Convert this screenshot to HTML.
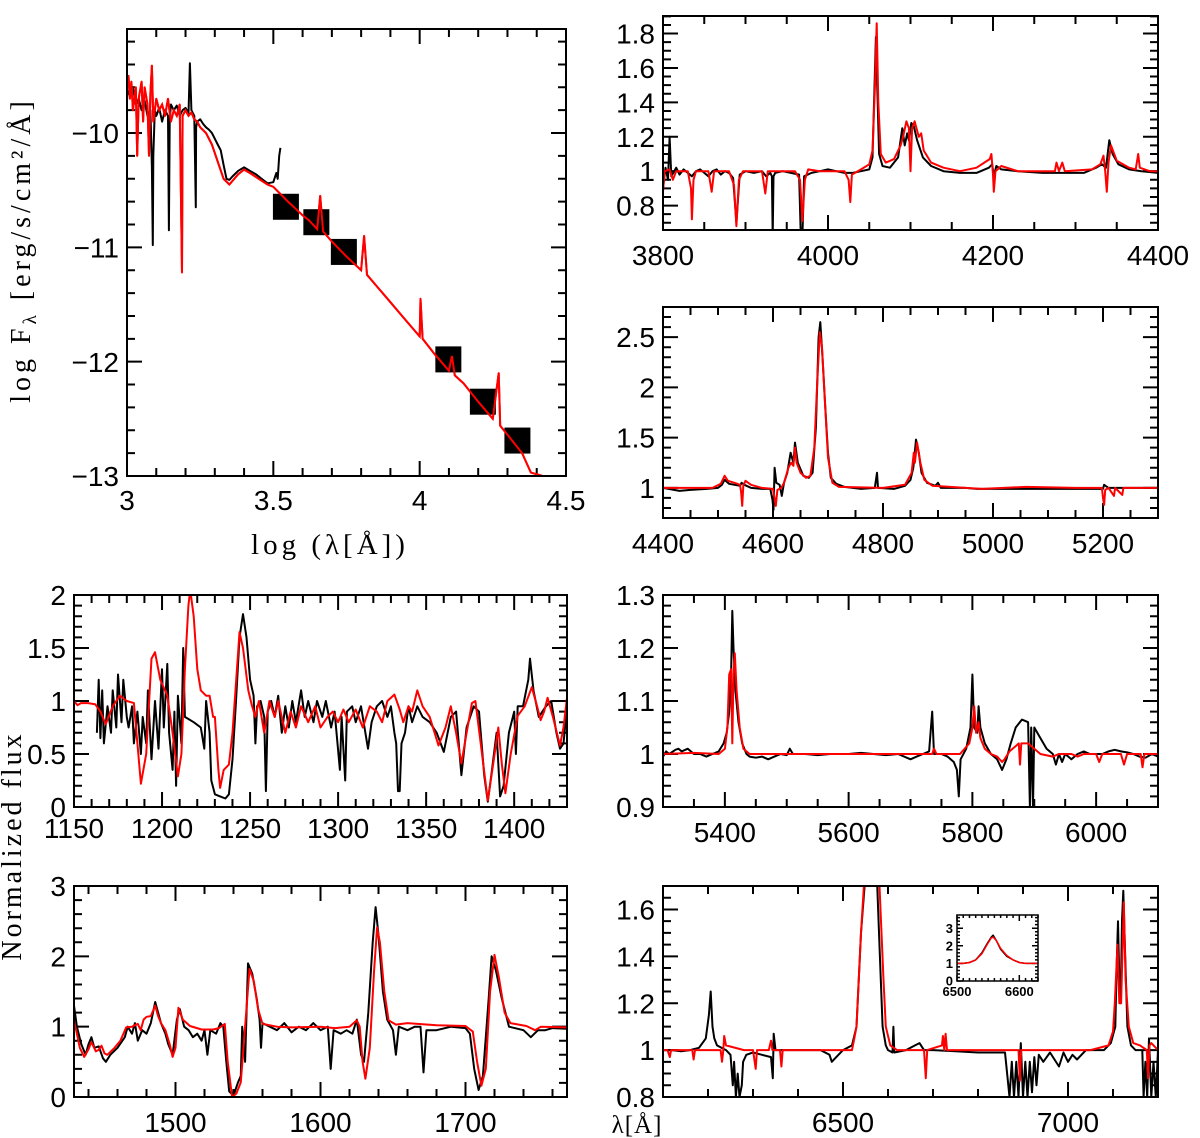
<!DOCTYPE html>
<html><head><meta charset="utf-8"><style>
html,body{margin:0;padding:0;background:#fff;}
svg{display:block;font-family:"Liberation Sans",sans-serif;}
</style></head><body>
<svg id="fig" width="1200" height="1138" viewBox="0 0 1200 1138" xmlns="http://www.w3.org/2000/svg">
<text transform="translate(30,250) rotate(-90)" text-anchor="middle" font-size="28" font-family="Liberation Serif, serif" letter-spacing="4">log F<tspan font-size="19" dy="6">λ</tspan><tspan dy="-6"> [erg/s/cm²/Å]</tspan></text>
<text x="330" y="554" text-anchor="middle" font-size="29" font-family="Liberation Serif, serif" letter-spacing="4">log (λ[Å])</text>
<text transform="translate(21,846) rotate(-90)" text-anchor="middle" font-size="28" font-family="Liberation Serif, serif" letter-spacing="3">Normalized flux</text>
<text x="637" y="1133" text-anchor="middle" font-size="25" font-family="Liberation Serif, serif" letter-spacing="1">λ[Å]</text>
</svg>
<script>
// ---------- DATA ----------
const sedObsXY = [[3.0,-9.62],[3.01,-9.68],[3.02,-9.6],[3.03,-9.75],[3.04,-9.7],[3.05,-9.8],[3.06,-9.72],[3.07,-9.85],[3.08,-9.8],[3.085,-10.3],[3.088,-10.98],[3.09,-10.2],[3.095,-9.8],[3.1,-9.85],[3.11,-9.78],[3.12,-9.9],[3.13,-9.8],[3.14,-9.85],[3.143,-10.85],[3.146,-9.9],[3.15,-9.75],[3.16,-9.8],[3.17,-9.76],[3.18,-9.85],[3.19,-9.8],[3.2,-9.78],[3.21,-9.83],[3.215,-9.39],[3.22,-9.8],[3.23,-9.85],[3.235,-10.65],[3.236,-9.95],[3.24,-9.9],[3.25,-9.88],[3.26,-9.92],[3.27,-9.95],[3.28,-9.97],[3.29,-10.0],[3.3,-10.05],[3.31,-10.1],[3.32,-10.15],[3.33,-10.28],[3.34,-10.4],[3.35,-10.41],[3.36,-10.38],[3.38,-10.33],[3.4,-10.3],[3.42,-10.33],[3.44,-10.36],[3.46,-10.4],[3.48,-10.44],[3.5,-10.43],[3.51,-10.35],[3.515,-10.4],[3.52,-10.2],[3.524,-10.13]];
const sedModelXY = [[3.0,-9.62],[3.005,-9.5],[3.01,-9.7],[3.015,-9.55],[3.02,-9.8],[3.03,-9.6],[3.035,-10.2],[3.04,-9.7],[3.05,-9.55],[3.055,-9.9],[3.06,-9.6],[3.07,-9.75],[3.075,-10.2],[3.08,-9.65],[3.085,-9.41],[3.09,-9.9],[3.1,-9.7],[3.11,-9.8],[3.12,-9.75],[3.13,-9.85],[3.14,-9.7],[3.15,-9.9],[3.16,-9.8],[3.17,-9.85],[3.18,-9.75],[3.188,-11.22],[3.19,-9.85],[3.2,-9.8],[3.21,-9.85],[3.22,-9.82],[3.23,-9.88],[3.24,-9.9],[3.25,-9.95],[3.27,-10.0],[3.29,-10.1],[3.31,-10.25],[3.33,-10.4],[3.35,-10.45],[3.36,-10.42],[3.38,-10.36],[3.4,-10.32],[3.42,-10.35],[3.45,-10.4],[3.48,-10.45],[3.5,-10.47],[3.55,-10.6],[3.6,-10.72],[3.62,-10.76],[3.65,-10.84],[3.66,-10.55],[3.67,-10.86],[3.7,-10.95],[3.75,-11.08],[3.8,-11.2],[3.81,-10.9],[3.82,-11.24],[3.85,-11.33],[3.9,-11.48],[3.95,-11.63],[4.0,-11.78],[4.003,-11.45],[4.01,-11.8],[4.05,-11.93],[4.1,-12.08],[4.11,-11.95],[4.12,-12.12],[4.15,-12.19],[4.2,-12.35],[4.25,-12.5],[4.27,-12.1],[4.275,-12.56],[4.3,-12.64],[4.35,-12.8],[4.38,-12.97],[4.42,-13.0]];
const sedPhotX = [3.543,3.647,3.741,4.098,4.216,4.334];
const sedPhotY = [-10.645,-10.78,-11.04,-11.98,-12.35,-12.69];

const p1ObsXY = [[3800,0.9],[3803,1.02],[3806,0.95],[3808,1.2],[3810,0.97],[3816,1.02],[3820,0.98],[3825,1.01],[3830,0.99],[3835,0.97],[3840,1.0],[3845,1.01],[3850,0.99],[3855,0.97],[3860,1.0],[3865,1.01],[3870,0.98],[3875,1.0],[3880,0.99],[3885,0.96],[3889,0.70],[3893,0.98],[3900,1.0],[3910,0.99],[3920,1.0],[3925,0.97],[3930,0.99],[3932,0.97],[3933,0.62],[3934,0.97],[3936,0.99],[3945,1.0],[3955,0.99],[3965,0.98],[3967,0.62],[3969,0.62],[3971,0.97],[3980,0.99],[3990,1.0],[4000,1.01],[4010,1.0],[4020,0.99],[4030,0.99],[4040,1.0],[4050,1.01],[4054,1.08],[4058,1.78],[4062,1.1],[4066,1.03],[4075,1.02],[4085,1.08],[4090,1.25],[4093,1.15],[4096,1.22],[4098,1.18],[4101,1.28],[4104,1.26],[4108,1.18],[4115,1.08],[4125,1.03],[4140,1.0],[4160,0.99],[4180,0.99],[4195,1.02],[4199,1.04],[4201,0.97],[4204,1.03],[4210,1.01],[4230,1.0],[4260,0.99],[4290,0.99],[4310,0.99],[4325,1.02],[4332,1.04],[4337,1.02],[4341,1.18],[4345,1.1],[4352,1.04],[4365,1.01],[4380,1.0],[4400,0.99]];
const p1ModelXY = [[3800,0.88],[3802,1.0],[3808,1.01],[3812,0.95],[3816,1.0],[3830,1.0],[3834,0.9],[3835,0.72],[3837,0.95],[3840,1.0],[3855,1.0],[3859,0.88],[3862,1.0],[3880,1.0],[3886,0.92],[3889,0.68],[3892,0.95],[3897,1.0],[3920,1.0],[3924,0.87],[3927,1.0],[3960,1.0],[3966,0.95],[3969,0.71],[3972,0.95],[3976,1.01],[3990,1.0],[4000,1.0],[4020,1.0],[4025,0.95],[4027,0.82],[4029,0.98],[4040,1.01],[4050,1.04],[4054,1.12],[4057,1.5],[4059,1.86],[4061,1.4],[4064,1.1],[4070,1.05],[4080,1.07],[4088,1.15],[4091,1.2],[4095,1.29],[4098,1.25],[4100,1.0],[4102,1.25],[4105,1.29],[4110,1.2],[4113,1.22],[4116,1.12],[4125,1.05],[4140,1.02],[4160,1.0],[4180,1.02],[4196,1.07],[4198,1.1],[4200,0.98],[4201,0.88],[4203,1.0],[4210,1.03],[4230,1.0],[4275,1.0],[4277,1.05],[4280,1.0],[4284,1.05],[4287,1.0],[4320,1.01],[4330,1.04],[4334,1.09],[4336,1.0],[4338,0.88],[4340,1.05],[4343,1.15],[4350,1.06],[4365,1.02],[4373,1.01],[4376,1.1],[4378,1.02],[4390,1.0],[4400,1.0]];

const p2ObsXY = [[4400,1.0],[4420,0.98],[4430,0.97],[4450,0.98],[4480,0.99],[4500,1.0],[4507,1.03],[4512,1.08],[4520,1.04],[4530,1.03],[4540,1.02],[4543,1.05],[4548,1.03],[4560,1.0],[4580,0.99],[4595,0.99],[4599,0.88],[4601,0.78],[4603,1.2],[4606,1.05],[4612,1.03],[4616,0.92],[4620,1.05],[4626,1.15],[4632,1.35],[4637,1.25],[4640,1.45],[4645,1.25],[4655,1.12],[4665,1.1],[4672,1.15],[4678,1.6],[4683,2.5],[4686,2.65],[4690,2.3],[4695,1.8],[4700,1.35],[4705,1.1],[4715,1.04],[4730,1.01],[4760,0.99],[4785,1.0],[4789,1.15],[4791,1.0],[4820,0.99],[4840,1.02],[4850,1.08],[4855,1.2],[4860,1.48],[4865,1.35],[4870,1.15],[4880,1.05],[4895,1.02],[4900,1.05],[4905,1.0],[4950,1.0],[4970,0.99],[5050,0.99],[5150,0.99],[5200,0.99],[5202,1.03],[5210,1.0],[5300,1.0]];
const p2ModelXY = [[4400,1.0],[4450,1.0],[4490,1.0],[4505,1.04],[4512,1.12],[4518,1.07],[4530,1.05],[4540,1.03],[4542,0.96],[4544,0.82],[4546,1.02],[4550,1.07],[4560,1.03],[4580,1.0],[4600,0.99],[4605,0.82],[4608,0.98],[4615,1.0],[4620,1.05],[4628,1.2],[4633,1.25],[4637,1.22],[4640,1.4],[4643,1.25],[4650,1.15],[4660,1.1],[4668,1.12],[4675,1.4],[4680,2.0],[4685,2.55],[4689,2.4],[4694,1.9],[4700,1.3],[4708,1.05],[4720,1.01],[4800,1.0],[4840,1.03],[4852,1.15],[4856,1.35],[4858,1.25],[4862,1.45],[4868,1.25],[4875,1.08],[4890,1.02],[4950,1.0],[4980,0.99],[5060,1.01],[5150,1.0],[5198,1.0],[5200,0.9],[5202,0.83],[5204,0.98],[5210,1.0],[5220,0.92],[5222,1.0],[5235,0.93],[5237,1.0],[5300,1.0]];

const p3ObsXY = [[1163,0.7],[1164,1.2],[1165,0.65],[1166,1.1],[1167,0.6],[1169,0.95],[1171,0.7],[1172,1.1],[1174,0.75],[1175,1.25],[1177,0.8],[1178,1.2],[1180,0.85],[1181,0.75],[1183,0.95],[1184,0.6],[1186,0.9],[1188,0.5],[1189,0.85],[1191,0.6],[1192,1.1],[1194,0.45],[1196,1.0],[1198,0.55],[1200,1.3],[1201,0.75],[1203,1.35],[1204,0.7],[1206,0.35],[1207,0.9],[1208,0.2],[1209,1.05],[1211,0.6],[1212,1.5],[1213,0.85],[1218,0.8],[1222,0.75],[1224,0.55],[1225,1.0],[1227,0.7],[1228,0.25],[1230,0.12],[1233,0.1],[1236,0.08],[1238,0.12],[1240,0.45],[1242,1.0],[1244,1.6],[1246,1.82],[1248,1.6],[1250,1.2],[1252,1.05],[1253,0.6],[1254,0.95],[1256,1.0],[1258,0.85],[1259,0.15],[1260,0.9],[1262,1.0],[1264,0.85],[1266,1.05],[1268,0.7],[1270,0.95],[1272,0.75],[1274,1.0],[1276,0.8],[1279,1.1],[1281,0.85],[1283,1.0],[1286,0.8],[1288,1.0],[1291,0.85],[1293,1.0],[1296,0.75],[1298,0.9],[1301,0.35],[1302,0.85],[1304,0.25],[1305,0.9],[1308,0.95],[1310,0.8],[1313,0.95],[1315,0.75],[1317,0.55],[1319,0.8],[1322,0.95],[1325,1.0],[1328,0.85],[1330,0.95],[1332,0.7],[1333,0.6],[1334,0.15],[1335,0.15],[1336,0.6],[1338,0.7],[1340,0.95],[1342,0.8],[1345,0.95],[1348,0.85],[1352,0.8],[1356,0.7],[1360,0.52],[1364,0.85],[1367,0.9],[1370,0.3],[1373,0.75],[1377,0.95],[1380,0.9],[1383,0.3],[1385,0.05],[1387,0.3],[1390,0.7],[1392,0.1],[1394,0.2],[1397,0.7],[1400,0.9],[1401,0.5],[1402,0.95],[1405,0.95],[1408,1.2],[1409,1.4],[1411,1.1],[1414,0.85],[1418,0.95],[1421,1.0],[1424,0.7],[1426,0.55],[1428,0.6],[1430,0.95]];
const p3ModelXY = [[1150,1.0],[1152,0.96],[1154,0.98],[1158,0.98],[1162,0.97],[1165,0.9],[1168,0.78],[1172,0.95],[1176,1.05],[1180,1.0],[1184,0.98],[1186,0.6],[1188,0.22],[1191,0.5],[1194,1.4],[1196,1.46],[1199,1.2],[1203,1.05],[1206,0.7],[1209,0.29],[1211,0.5],[1213,1.3],[1215,1.9],[1216,2.05],[1218,1.8],[1220,1.3],[1222,1.1],[1225,1.05],[1227,1.05],[1229,0.85],[1230,0.85],[1232,0.35],[1233,0.18],[1235,0.35],[1238,0.4],[1240,0.7],[1243,1.4],[1244,1.65],[1246,1.5],[1249,1.1],[1251,0.96],[1253,0.85],[1255,1.0],[1258,0.7],[1261,1.0],[1264,0.85],[1266,1.0],[1270,0.7],[1273,0.9],[1276,0.75],[1279,0.95],[1283,0.8],[1287,0.95],[1290,0.75],[1294,0.85],[1297,0.9],[1300,0.8],[1303,0.92],[1306,0.8],[1310,0.92],[1314,0.75],[1318,0.95],[1322,0.9],[1325,0.8],[1328,1.0],[1332,1.06],[1335,0.92],[1337,0.8],[1340,0.95],[1342,0.9],[1345,1.1],[1348,0.95],[1352,0.85],[1357,0.58],[1361,0.75],[1364,0.95],[1367,0.7],[1370,0.41],[1373,0.7],[1376,0.98],[1378,1.0],[1381,0.6],[1385,0.06],[1388,0.4],[1391,0.75],[1393,0.4],[1395,0.13],[1398,0.5],[1402,0.86],[1406,0.95],[1410,1.13],[1413,0.95],[1415,0.82],[1417,0.9],[1419,1.03],[1422,0.85],[1426,0.58],[1428,0.75],[1430,1.03]];

const p4ObsXY = [[1430,1.3],[1432,1.0],[1435,0.75],[1438,0.6],[1440,0.75],[1442,0.85],[1444,0.7],[1447,0.72],[1450,0.55],[1452,0.5],[1455,0.6],[1460,0.7],[1465,0.85],[1467,1.0],[1470,0.9],[1472,1.05],[1474,0.8],[1477,0.95],[1480,0.9],[1483,1.05],[1486,1.35],[1488,1.2],[1490,1.05],[1493,0.9],[1495,0.75],[1498,0.6],[1501,1.1],[1503,1.25],[1506,1.0],[1509,0.95],[1512,0.85],[1515,0.9],[1518,0.8],[1520,0.95],[1522,0.6],[1524,0.95],[1528,0.9],[1531,1.05],[1533,1.0],[1535,0.5],[1537,0.08],[1540,0.02],[1543,0.2],[1545,0.3],[1546,1.0],[1548,0.5],[1550,1.9],[1553,1.75],[1556,1.4],[1558,1.1],[1559,0.7],[1560,1.05],[1565,1.0],[1570,0.95],[1575,1.05],[1580,0.92],[1585,1.0],[1590,0.95],[1595,1.05],[1600,0.95],[1605,1.0],[1607,0.4],[1609,0.95],[1614,0.9],[1618,0.95],[1622,0.9],[1625,1.1],[1628,0.6],[1630,0.5],[1633,1.2],[1636,2.2],[1638,2.7],[1640,2.3],[1643,1.5],[1646,1.1],[1650,0.95],[1652,0.6],[1654,1.0],[1660,0.95],[1665,1.0],[1669,1.0],[1671,0.35],[1673,0.95],[1680,0.95],[1690,1.0],[1700,0.98],[1703,0.9],[1706,0.4],[1709,0.1],[1712,0.3],[1716,1.4],[1718,2.0],[1721,1.8],[1725,1.4],[1730,1.0],[1740,0.95],[1745,0.85],[1750,0.95],[1755,0.95],[1760,0.98],[1770,0.97]];
const p4ModelXY = [[1430,1.09],[1432,0.9],[1434,0.7],[1437,0.57],[1440,0.68],[1442,0.78],[1445,0.65],[1447,0.67],[1449,0.73],[1451,0.62],[1453,0.6],[1458,0.7],[1462,0.8],[1466,0.99],[1470,1.0],[1474,1.04],[1476,0.95],[1478,1.1],[1480,1.14],[1483,1.15],[1486,1.3],[1488,1.15],[1490,1.05],[1493,0.95],[1496,0.75],[1498,0.57],[1500,0.7],[1502,1.27],[1505,1.1],[1510,1.01],[1518,0.96],[1526,0.96],[1530,0.98],[1534,1.04],[1536,0.5],[1539,0.0],[1542,0.05],[1545,0.21],[1548,1.0],[1551,1.82],[1554,1.65],[1557,1.25],[1560,1.04],[1570,1.0],[1580,0.99],[1600,1.0],[1610,0.98],[1620,1.0],[1625,1.09],[1627,1.0],[1629,0.5],[1631,0.26],[1634,0.7],[1637,1.8],[1639,2.41],[1641,2.2],[1644,1.5],[1647,1.09],[1652,1.03],[1660,1.05],[1680,1.02],[1700,1.01],[1705,0.93],[1708,0.5],[1711,0.16],[1714,0.4],[1717,1.5],[1720,2.02],[1723,1.7],[1727,1.2],[1731,1.05],[1742,1.01],[1748,0.95],[1752,1.0],[1770,0.99]];

const p5ObsXY = [[5300,0.995],[5305,1.005],[5310,1.0],[5320,1.008],[5325,1.01],[5330,1.005],[5340,1.01],[5350,1.0],[5360,1.0],[5370,0.995],[5380,1.0],[5390,1.005],[5398,1.02],[5403,1.04],[5407,1.08],[5410,1.15],[5412,1.27],[5414,1.2],[5417,1.12],[5422,1.06],[5428,1.02],[5435,1.0],[5440,0.995],[5450,0.993],[5460,0.995],[5470,0.99],[5480,0.995],[5490,1.0],[5500,0.998],[5505,1.01],[5510,1.0],[5530,1.0],[5550,0.998],[5570,1.0],[5600,1.0],[5620,1.002],[5640,1.0],[5660,0.998],[5680,1.0],[5700,0.99],[5710,0.995],[5720,1.0],[5730,1.005],[5735,1.08],[5738,1.0],[5750,1.0],[5760,0.995],[5770,0.985],[5775,0.97],[5778,0.92],[5781,0.99],[5790,1.01],[5797,1.05],[5800,1.15],[5803,1.05],[5808,1.04],[5810,1.09],[5813,1.05],[5820,1.02],[5830,1.0],[5840,0.99],[5848,0.97],[5855,0.99],[5862,1.02],[5870,1.05],[5880,1.065],[5890,1.06],[5893,0.9],[5895,1.05],[5898,0.9],[5900,1.05],[5910,1.03],[5920,1.01],[5930,1.0],[5935,0.98],[5940,1.0],[5945,0.985],[5950,1.0],[5960,0.99],[5970,1.0],[5980,1.005],[5990,1.0],[6000,1.0],[6010,1.0],[6020,1.005],[6030,1.008],[6040,1.005],[6050,1.003],[6060,1.0],[6070,0.995],[6080,0.993],[6090,1.0],[6100,0.995]];
const p5ModelXY = [[5300,1.0],[5350,1.002],[5390,1.0],[5400,1.01],[5404,1.05],[5407,1.15],[5410,1.16],[5412,1.02],[5414,1.15],[5416,1.19],[5419,1.12],[5424,1.05],[5430,1.01],[5440,1.0],[5500,1.0],[5600,1.0],[5700,1.0],[5735,1.0],[5738,1.01],[5742,1.0],[5780,1.0],[5795,1.02],[5800,1.05],[5803,1.09],[5806,1.04],[5810,1.06],[5813,1.03],[5820,1.01],[5830,1.0],[5840,0.995],[5848,0.985],[5852,0.99],[5860,1.005],[5870,1.015],[5875,1.02],[5877,0.98],[5879,1.02],[5890,1.02],[5900,1.01],[5910,1.0],[5930,0.995],[5940,1.0],[5960,1.0],[5970,0.995],[5980,1.0],[6000,1.0],[6005,0.985],[6010,1.0],[6040,1.0],[6045,0.98],[6050,1.0],[6072,1.0],[6075,0.975],[6078,1.0],[6100,1.0]];

const p6ObsXY = [[6100,1.0],[6120,1.0],[6140,0.995],[6160,1.0],[6180,1.01],[6195,1.05],[6202,1.15],[6206,1.25],[6210,1.1],[6214,1.05],[6220,1.02],[6240,1.0],[6250,0.98],[6255,0.85],[6258,0.95],[6262,0.8],[6266,0.9],[6270,0.8],[6275,0.85],[6278,0.95],[6285,0.98],[6300,0.99],[6320,0.98],[6340,0.97],[6344,0.88],[6346,1.07],[6350,1.0],[6380,1.0],[6420,1.0],[6450,1.0],[6470,0.98],[6475,0.95],[6485,0.97],[6500,1.0],[6520,1.02],[6530,1.1],[6540,1.5],[6550,1.75],[6575,1.75],[6582,1.4],[6588,1.1],[6595,1.02],[6600,1.0],[6610,0.99],[6612,1.1],[6614,0.99],[6640,1.0],[6660,1.02],[6670,1.03],[6680,1.0],[6700,1.0],[6750,0.995],[6800,0.99],[6860,0.99],[6870,0.8],[6875,0.95],[6880,0.8],[6885,0.95],[6890,0.8],[6895,1.03],[6900,0.8],[6905,0.95],[6910,0.8],[6915,0.95],[6920,0.82],[6925,0.97],[6930,0.85],[6935,0.98],[6945,0.95],[6960,0.99],[6970,0.96],[6980,0.93],[6990,0.99],[7000,0.95],[7010,0.98],[7020,0.96],[7040,1.0],[7060,1.0],[7080,1.0],[7095,1.03],[7105,1.1],[7108,1.35],[7111,1.55],[7114,1.3],[7117,1.2],[7120,1.55],[7123,1.68],[7127,1.4],[7132,1.1],[7140,1.02],[7150,1.0],[7165,1.0],[7168,0.8],[7172,0.95],[7176,0.8],[7180,1.05],[7185,0.8],[7190,0.95],[7195,0.8],[7200,1.0]];
const p6ModelXY = [[6100,1.0],[6110,1.0],[6115,0.97],[6118,1.0],[6165,1.0],[6168,0.96],[6171,1.0],[6228,1.0],[6231,0.95],[6234,1.0],[6236,1.06],[6240,1.02],[6280,1.0],[6300,1.0],[6306,0.92],[6309,1.0],[6335,1.0],[6340,1.04],[6343,1.0],[6360,1.0],[6363,0.93],[6366,1.0],[6400,1.0],[6480,1.0],[6520,1.0],[6525,1.05],[6530,1.1],[6540,1.5],[6548,1.75],[6580,1.75],[6590,1.3],[6595,1.1],[6605,1.02],[6620,1.0],[6680,1.0],[6684,0.88],[6687,1.0],[6720,1.02],[6722,1.06],[6725,1.0],[6728,1.07],[6731,1.0],[6750,1.0],[6800,1.0],[6890,1.0],[6893,0.87],[6896,1.0],[6950,1.0],[7050,1.0],[7090,1.02],[7100,1.08],[7104,1.2],[7110,1.45],[7114,1.2],[7118,1.2],[7124,1.63],[7128,1.3],[7135,1.1],[7145,1.03],[7160,1.02],[7175,1.0],[7178,0.88],[7181,1.02],[7185,1.03],[7200,1.0]];

const insetObsXY = [[6500,1.0],[6510,1.0],[6520,1.05],[6530,1.2],[6540,1.6],[6548,2.1],[6555,2.5],[6558,2.6],[6563,2.3],[6570,1.8],[6580,1.4],[6590,1.2],[6600,1.05],[6610,1.0],[6630,1.0]];
const insetModelXY = [[6500,1.0],[6510,1.0],[6520,1.05],[6530,1.2],[6540,1.55],[6548,2.05],[6555,2.45],[6558,2.5],[6563,2.3],[6570,1.85],[6580,1.45],[6590,1.2],[6600,1.05],[6610,1.0],[6630,1.0]];

const sedXTickLabels = [3,3.5,4,4.5];
const sedYTickLabels = [-10,-11,-12,-13];
const p1XTickLabels = [3800,4000,4200,4400];
const p1YTickLabels = [0.8,1,1.2,1.4,1.6,1.8];
const p2XTickLabels = [4400,4600,4800,5000,5200];
const p2YTickLabels = [1,1.5,2,2.5];
const p3XTickLabels = [1150,1200,1250,1300,1350,1400];
const p3YTickLabels = [0,0.5,1,1.5,2];
const p4XTickLabels = [1500,1600,1700];
const p4YTickLabels = [0,1,2,3];
const p5XTickLabels = [5400,5600,5800,6000];
const p5YTickLabels = [0.9,1,1.1,1.2,1.3];
const p6XTickLabels = [6500,7000];
const p6YTickLabels = [0.8,1,1.2,1.4,1.6];
const insetXTickLabels = [6500,6600];
const insetYTickLabels = [0,1,2,3];

// ---------- DRAWING ----------
const NS = "http://www.w3.org/2000/svg";
const svg = document.getElementById('fig');
function mk(tag, attrs, parent){const e=document.createElementNS(NS,tag);for(const k in attrs)e.setAttribute(k,attrs[k]);(parent||svg).appendChild(e);return e;}
function fmt(v){return (v<0?'\u2212':'')+String(Math.abs(v));}

function panel(cfg){
  const g = mk('g',{});
  
  
  const sx = v => cfg.x0 + (v-cfg.xmin)/(cfg.xmax-cfg.xmin)*(cfg.x1-cfg.x0);
  const sy = v => cfg.y1 - (v-cfg.ymin)/(cfg.ymax-cfg.ymin)*(cfg.y1-cfg.y0);
  const cid = 'clip-'+cfg.name;
  const cp = mk('clipPath',{id:cid},g);
  mk('rect',{x:cfg.x0,y:cfg.y0,width:cfg.x1-cfg.x0,height:cfg.y1-cfg.y0},cp);
  const tw = cfg.tw||2, TM=cfg.tm||15, Tm=cfg.tmi||8;
  const nx = Math.round((cfg.xmax-cfg.xmin)/cfg.xminor)+2;
  let tp='';
  for(let i=-1;i<nx;i++){
    const v = Math.ceil(cfg.xmin/cfg.xminor)*cfg.xminor + i*cfg.xminor;
    if(v<cfg.xmin-1e-9||v>cfg.xmax+1e-9) continue;
    const r=v/cfg.xmajor, maj=Math.abs(r-Math.round(r))<1e-6;
    const L=maj?TM:Tm, X=sx(v);
    tp+=`M${X},${cfg.y1}v${-L}M${X},${cfg.y0}v${L}`;
  }
  const ny = Math.round((cfg.ymax-cfg.ymin)/cfg.yminor)+2;
  for(let i=-1;i<ny;i++){
    const v = Math.ceil(cfg.ymin/cfg.yminor)*cfg.yminor + i*cfg.yminor;
    if(v<cfg.ymin-1e-9||v>cfg.ymax+1e-9) continue;
    const r=v/cfg.ymajor, maj=Math.abs(r-Math.round(r))<1e-6;
    const L=maj?TM:Tm, Y=sy(v);
    tp+=`M${cfg.x0},${Y}h${L}M${cfg.x1},${Y}h${-L}`;
  }
  const ticks = mk('path',{d:tp,stroke:'#000','stroke-width':tw,fill:'none'},g);
  
  
  const sg = mk('g',{'clip-path':`url(#${cid})`},g);
  cfg.series.forEach(s=>{
    const pts = s.data.map(p=>sx(p[0]).toFixed(1)+','+sy(p[1]).toFixed(1)).join(' ');
    const pl = mk('polyline',{points:pts,fill:'none',stroke:s.color,'stroke-width':s.w||2,'stroke-linejoin':'round'},sg);
    
    
  });
  if(cfg.squares){
    cfg.squares.x.forEach((xv,i)=>{
      const sq = mk('rect',{x:sx(xv)-13,y:sy(cfg.squares.y[i])-13,width:26,height:26,fill:'#000'},sg);
      
      
    });
    const s=cfg.series[1];
    const pts = s.data.map(p=>sx(p[0]).toFixed(1)+','+sy(p[1]).toFixed(1)).join(' ');
    const pl = mk('polyline',{points:pts,fill:'none',stroke:s.color,'stroke-width':2},sg);
    
    
  }
  const fr = mk('rect',{x:cfg.x0,y:cfg.y0,width:cfg.x1-cfg.x0,height:cfg.y1-cfg.y0,fill:'none',stroke:'#000','stroke-width':tw},g);
  
  
  const fs = cfg.fs||28;
  cfg.xl.forEach(v=>{
    const t = mk('text',{x:sx(v),y:cfg.y1+(cfg.xlo||35),'text-anchor':'middle','font-size':fs,'font-weight':cfg.bold?'bold':'normal'},g);
    t.textContent = fmt(v);
    
    
  });
  cfg.yl.forEach(v=>{
    const t = mk('text',{x:cfg.x0-(cfg.ylo||8),y:sy(v)+fs*0.36,'text-anchor':'end','font-size':fs,'font-weight':cfg.bold?'bold':'normal'},g);
    t.textContent = fmt(v);
    
    
  });
}

panel({name:'sed-panel',x0:127,x1:566,y0:29,y1:476,xmin:3,xmax:4.5,ymin:-13,ymax:-9.09,xmajor:0.5,xminor:0.1,ymajor:1,yminor:0.2,
  xl:sedXTickLabels,yl:sedYTickLabels,xlo:34,fs:28,
  series:[{name:'sed-observed',data:sedObsXY,color:'#000'},{name:'sed-model',data:sedModelXY,color:'#f00'}],
  squares:{x:sedPhotX,y:sedPhotY}});
panel({name:'panel-3800-4400',x0:663,x1:1158,y0:16,y1:230,xmin:3800,xmax:4400,ymin:0.658,ymax:1.902,xmajor:200,xminor:50,ymajor:0.2,yminor:0.05,
  xl:p1XTickLabels,yl:p1YTickLabels,
  series:[{name:'observed-3800-4400',data:p1ObsXY,color:'#000'},{name:'model-3800-4400',data:p1ModelXY,color:'#f00'}]});
panel({name:'panel-4400-5300',x0:663,x1:1158,y0:307,y1:518,xmin:4400,xmax:5300,ymin:0.7,ymax:2.8,xmajor:200,xminor:50,ymajor:0.5,yminor:0.1,
  xl:p2XTickLabels,yl:p2YTickLabels,
  series:[{name:'observed-4400-5300',data:p2ObsXY,color:'#000'},{name:'model-4400-5300',data:p2ModelXY,color:'#f00'}]});
panel({name:'panel-1150-1430',x0:74,x1:567,y0:595,y1:807,xmin:1150,xmax:1430,ymin:0,ymax:2,xmajor:50,xminor:10,ymajor:0.5,yminor:0.1,
  xl:p3XTickLabels,yl:p3YTickLabels,xlo:31,
  series:[{name:'observed-1150-1430',data:p3ObsXY,color:'#000'},{name:'model-1150-1430',data:p3ModelXY,color:'#f00'}]});
panel({name:'panel-1430-1770',x0:74,x1:567,y0:886,y1:1097,xmin:1430,xmax:1770,ymin:0,ymax:3,xmajor:100,xminor:20,ymajor:1,yminor:0.2,
  xl:p4XTickLabels,yl:p4YTickLabels,
  series:[{name:'observed-1430-1770',data:p4ObsXY,color:'#000'},{name:'model-1430-1770',data:p4ModelXY,color:'#f00'}]});
panel({name:'panel-5300-6100',x0:663,x1:1158,y0:595,y1:807,xmin:5300,xmax:6100,ymin:0.9,ymax:1.3,xmajor:200,xminor:50,ymajor:0.1,yminor:0.02,
  xl:p5XTickLabels,yl:p5YTickLabels,
  series:[{name:'observed-5300-6100',data:p5ObsXY,color:'#000'},{name:'model-5300-6100',data:p5ModelXY,color:'#f00'}]});
panel({name:'panel-6100-7200',x0:663,x1:1158,y0:886,y1:1097,xmin:6100,xmax:7200,ymin:0.8,ymax:1.7,xmajor:500,xminor:100,ymajor:0.2,yminor:0.05,
  xl:p6XTickLabels,yl:p6YTickLabels,
  series:[{name:'observed-6100-7200',data:p6ObsXY,color:'#000'},{name:'model-6100-7200',data:p6ModelXY,color:'#f00'}]});
panel({name:'halpha-inset',x0:957,x1:1038,y0:915,y1:981,xmin:6500,xmax:6630,ymin:0,ymax:3.75,xmajor:100,xminor:10,ymajor:1,yminor:0.2,
  xl:insetXTickLabels,yl:insetYTickLabels,fs:13,bold:true,xlo:15,ylo:4,tw:1.5,tm:6,tmi:3,
  series:[{name:'inset-observed',data:insetObsXY,color:'#000',w:1.5},{name:'inset-model',data:insetModelXY,color:'#f00',w:1.5}]});
</script>
</body></html>
